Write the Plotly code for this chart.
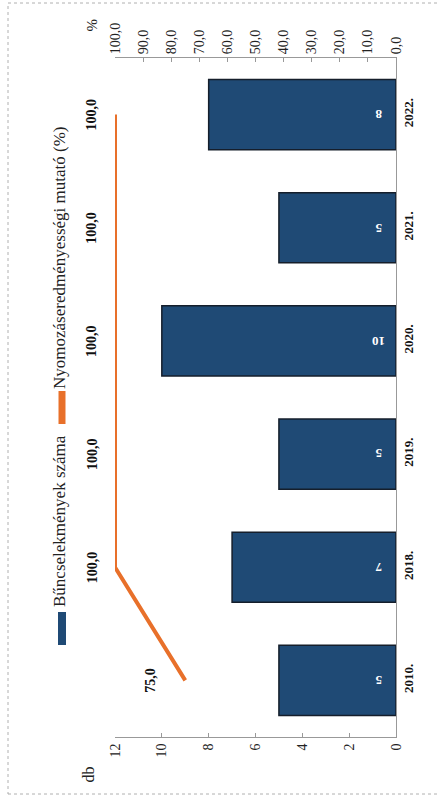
import plotly.graph_objects as go

# ---- data ----
years = ["2010.", "2018.", "2019.", "2020.", "2021.", "2022."]
crimes = [5, 7, 5, 10, 5, 8]              # Bűncselekmények száma (db)
rate = [75.0, 100.0, 100.0, 100.0, 100.0, 100.0]  # Nyomozáseredményességi mutató (%)
db_ticks = [0, 2, 4, 6, 8, 10, 12]
pct_ticks = [0, 10, 20, 30, 40, 50, 60, 70, 80, 90, 100]

pos = list(range(len(years)))  # category slots

W, H = 437, 799
L, R, T, B = 115, 396, 58, 737   # plot area in pixels


def px(x):
    return (x - L) / (R - L)


def py(y):
    return (B - y) / (B - T)


SERIF = "Liberation Serif"
BLUE = "#1f4a75"
ORANGE = "#e8702a"

fig = go.Figure()

fig.add_trace(go.Bar(
    x=crimes, y=pos, orientation="h",
    marker=dict(color=BLUE, line=dict(color="#151e2b", width=1.5)),
    width=0.62,
    name="Bűncselekmények száma", showlegend=False,
))

fig.add_trace(go.Scatter(
    x=rate, y=pos, xaxis="x2", mode="lines",
    line=dict(color=ORANGE, width=4),
    name="Nyomozáseredményességi mutató (%)", showlegend=False,
))

annotations = []
# bar value labels (upside down, near the base)
for p, v in zip(pos, crimes):
    annotations.append(dict(
        x=0, y=p, xref="x", yref="y", text=str(v), showarrow=False,
        textangle=180, xshift=-17,
        font=dict(family=SERIF, size=13, color="white", weight="bold"),
    ))

label_shift = [-35, -23, -23, -23, -23, -23]
for p, v, s in zip(pos, rate, label_shift):
    annotations.append(dict(
        x=v, y=p, xref="x2", yref="y", text=f"{v:.1f}".replace(".", ","),
        showarrow=False, textangle=-90, xshift=s,
        font=dict(family=SERIF, size=14, color="#111", weight="bold"),
    ))

# axis titles
annotations.append(dict(x=px(77), y=py(785), xref="paper", yref="paper", text="db",
                        showarrow=False, textangle=-90,
                        font=dict(family=SERIF, size=16, color="#222")))
annotations.append(dict(x=px(82), y=py(17), xref="paper", yref="paper", text="%",
                        showarrow=False, textangle=-90,
                        font=dict(family=SERIF, size=15, color="#222")))

# legend (rotated)
annotations.append(dict(x=px(59), y=py(609), xref="paper", yref="paper",
                        text="Bűncselekmények száma", showarrow=False, textangle=-90,
                        xanchor="center", yanchor="bottom",
                        font=dict(family=SERIF, size=17, color="#222")))
annotations.append(dict(x=px(59), y=py(391), xref="paper", yref="paper",
                        text="Nyomozáseredményességi mutató (%)", showarrow=False,
                        textangle=-90, xanchor="center", yanchor="bottom",
                        font=dict(family=SERIF, size=17, color="#222")))

shapes = [
    dict(type="rect", xref="paper", yref="paper", x0=px(58), x1=px(66),
         y0=py(645), y1=py(612), fillcolor=BLUE, line=dict(width=0)),
    dict(type="line", xref="paper", yref="paper", x0=px(62), x1=px(62),
         y0=py(424), y1=py(391), line=dict(color=ORANGE, width=7)),
    dict(type="rect", xref="paper", yref="paper", x0=px(8), x1=px(445),
         y0=py(794), y1=py(3), line=dict(color="#b0b0b0", width=1, dash="dot")),
]

fig.update_layout(
    width=W, height=H,
    margin=dict(l=L, r=W - R, t=T, b=H - B, pad=0),
    paper_bgcolor="white", plot_bgcolor="white",
    separators=", ",
    font=dict(family=SERIF, color="#222"),
    xaxis=dict(range=[12, 0], tickvals=db_ticks, tickangle=-90,
               showline=True, linecolor="#999", linewidth=1,
               ticks="inside", ticklen=4, tickcolor="#999",
               showgrid=False, zeroline=False,
               tickfont=dict(family=SERIF, size=14, color="#222")),
    xaxis2=dict(range=[100, 0], overlaying="x", side="top", anchor="y",
                tickvals=pct_ticks, tickformat=".1f", tickangle=-90,
                showline=True, linecolor="#999", linewidth=1,
                ticks="inside", ticklen=4, tickcolor="#999",
                showgrid=False, zeroline=False,
                tickfont=dict(family=SERIF, size=14, color="#222")),
    yaxis=dict(range=[-0.5, len(years) - 0.5], side="right", tickangle=-90,
               tickvals=pos, ticktext=years, showline=True,
               linecolor="#999", linewidth=1, showgrid=False, zeroline=False,
               tickfont=dict(family=SERIF, size=13, color="#111", weight="bold")),
    annotations=annotations,
    shapes=shapes,
)

fig.write_html("out.html", config={"displayModeBar": False},
               post_script="document.body.style.margin='0';")
